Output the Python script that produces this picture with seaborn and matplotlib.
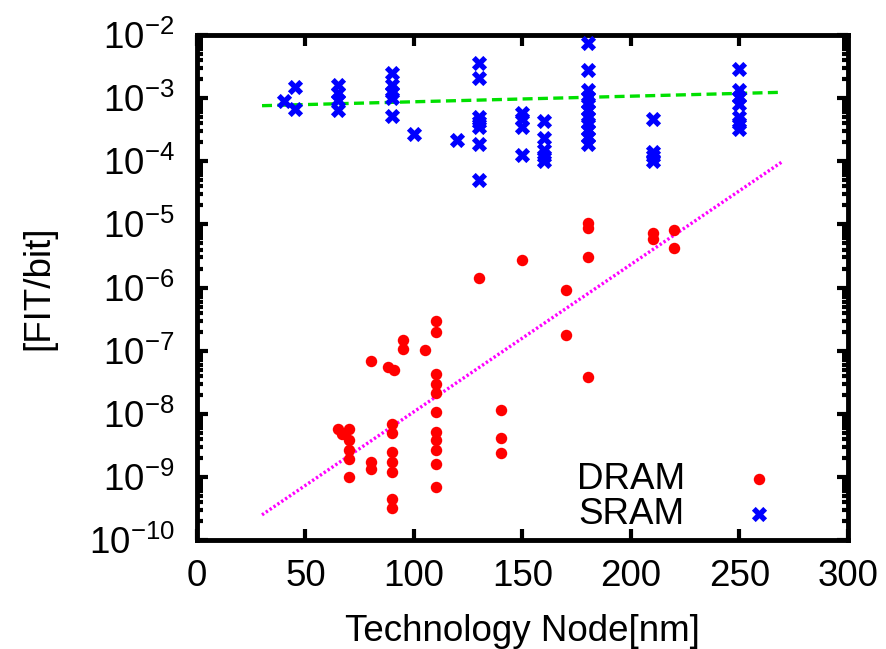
import matplotlib
matplotlib.use("Agg")
import matplotlib.pyplot as plt
import matplotlib.ticker as mticker
import numpy as np
import pandas as pd
import seaborn as sns

# DATA
dram_node = [65, 67, 70, 70, 70, 70, 70, 80, 80, 80,
             88, 91, 90, 90, 90, 90, 90, 90, 90,
             95, 95, 105,
             110, 110, 110, 110, 110, 110, 110, 110, 110, 110, 110,
             130, 140, 140, 140, 150, 170, 170,
             180, 180, 180, 180, 210, 210, 220, 220]
dram_fit = [5.8e-9, 4.75e-9, 5.8e-9, 3.9e-9, 2.65e-9, 1.9e-9, 1.0e-9, 6.9e-8, 1.7e-9, 1.32e-9,
            5.5e-8, 4.9e-8, 6.8e-9, 4.9e-9, 2.5e-9, 1.74e-9, 1.2e-9, 4.4e-10, 3.2e-10,
            1.5e-7, 1.06e-7, 1.02e-7,
            2.9e-7, 2.0e-7, 4.2e-8, 3.0e-8, 2.15e-8, 1.05e-8, 5.2e-9, 3.8e-9, 2.7e-9, 1.58e-9, 6.9e-10,
            1.39e-6, 1.15e-8, 4.1e-9, 2.4e-9, 2.7e-6, 9.1e-7, 1.76e-7,
            1.06e-5, 8.7e-6, 3.0e-6, 3.8e-8, 7.2e-6, 5.9e-6, 8.1e-6, 4.2e-6]

sram_node = [40, 45, 45, 65, 65, 65, 65,
             90, 90, 90, 90, 90, 100, 120,
             130, 130, 130, 130, 130, 130, 130,
             150, 150, 150, 150, 160, 160, 160, 160, 160,
             180, 180, 180, 180, 180, 180, 180, 180, 180, 180, 180,
             210, 210, 210, 210,
             250, 250, 250, 250, 250, 250, 250]
sram_fit = [9.1e-4, 1.5e-3, 6.7e-4, 1.6e-3, 1.22e-3, 9.3e-4, 6.5e-4,
            2.5e-3, 1.6e-3, 1.25e-3, 1.0e-3, 5.2e-4, 2.7e-4, 2.2e-4,
            3.56e-3, 2.1e-3, 5.0e-4, 4.2e-4, 3.5e-4, 1.9e-4, 5.0e-5,
            5.8e-4, 4.6e-4, 3.5e-4, 1.26e-4, 4.4e-4, 2.3e-4, 1.5e-4, 1.2e-4, 1.0e-4,
            7.4e-3, 2.8e-3, 1.35e-3, 1.05e-3, 8.3e-4, 6.5e-4, 5.1e-4, 4.0e-4, 3.1e-4, 2.45e-4, 1.9e-4,
            4.6e-4, 1.4e-4, 1.2e-4, 1.0e-4,
            2.86e-3, 1.35e-3, 1.05e-3, 8.1e-4, 5.0e-4, 4.0e-4, 3.3e-4]

trend_node = [30, 270]
dram_trend = [2.5e-10, 1.0e-4]
sram_trend = [7.6e-4, 1.24e-3]

dram = pd.DataFrame({"node": dram_node, "fit": dram_fit})
sram = pd.DataFrame({"node": sram_node, "fit": sram_fit})

sns.set_theme(style="ticks")
plt.rcParams["font.family"] = ["Liberation Sans", "DejaVu Sans"]
plt.rcParams["mathtext.default"] = "regular"
plt.rcParams["text.color"] = "black"
plt.rcParams["axes.labelcolor"] = "black"

FS = 26.5

fig = plt.figure(figsize=(8.87, 6.49), dpi=100)
ax = fig.add_axes([0.222, 0.168, 0.734, 0.778])

# trend lines
sns.lineplot(x=trend_node, y=sram_trend, ax=ax, color="#00e000", lw=2.4,
             linestyle=(0, (3, 1.6)), legend=False)
sns.lineplot(x=trend_node, y=dram_trend, ax=ax, color="#ff00ff", lw=2.4,
             linestyle=(0, (0.7, 0.7)), legend=False)

# measured points
sns.scatterplot(data=dram, x="node", y="fit", ax=ax, color="#ff0000",
                marker="o", s=68, linewidth=0, label="DRAM", zorder=3)
sns.scatterplot(data=sram, x="node", y="fit", ax=ax, color="#0000ff",
                marker="X", s=120, linewidth=0, label="SRAM", zorder=3)

ax.set_yscale("log")
ax.set_xlim(0, 300)
ax.set_ylim(1e-10, 1e-2)
ax.xaxis.set_major_locator(mticker.MultipleLocator(50))
ax.yaxis.set_major_locator(mticker.LogLocator(base=10, numticks=20))
ax.yaxis.set_minor_locator(mticker.LogLocator(base=10, subs=np.arange(2, 10), numticks=20))
ax.yaxis.set_minor_formatter(mticker.NullFormatter())
ax.yaxis.set_major_formatter(mticker.FuncFormatter(
    lambda v, p: "$10^{%d}$" % int(round(np.log10(v)))))

ax.tick_params(which="both", direction="in", top=True, right=True,
               width=3, labelsize=FS, colors="black")
ax.tick_params(which="major", length=8)
ax.tick_params(axis="y", which="major", pad=16)
ax.tick_params(axis="x", which="major", pad=14)
ax.tick_params(which="minor", length=4)
for sp in ax.spines.values():
    sp.set_linewidth(3.5)
    sp.set_color("black")

ax.set_xlabel("Technology Node[nm]", fontsize=FS, labelpad=14)
ax.set_ylabel("[FIT/bit]", fontsize=FS, labelpad=23)

ax.legend(loc="lower right", bbox_to_anchor=(0.97, -0.049), frameon=False,
          markerfirst=False, fontsize=FS, labelspacing=0.0,
          handletextpad=1.0, scatterpoints=1, borderpad=0.4)

plt.savefig("out.png", dpi=100)
